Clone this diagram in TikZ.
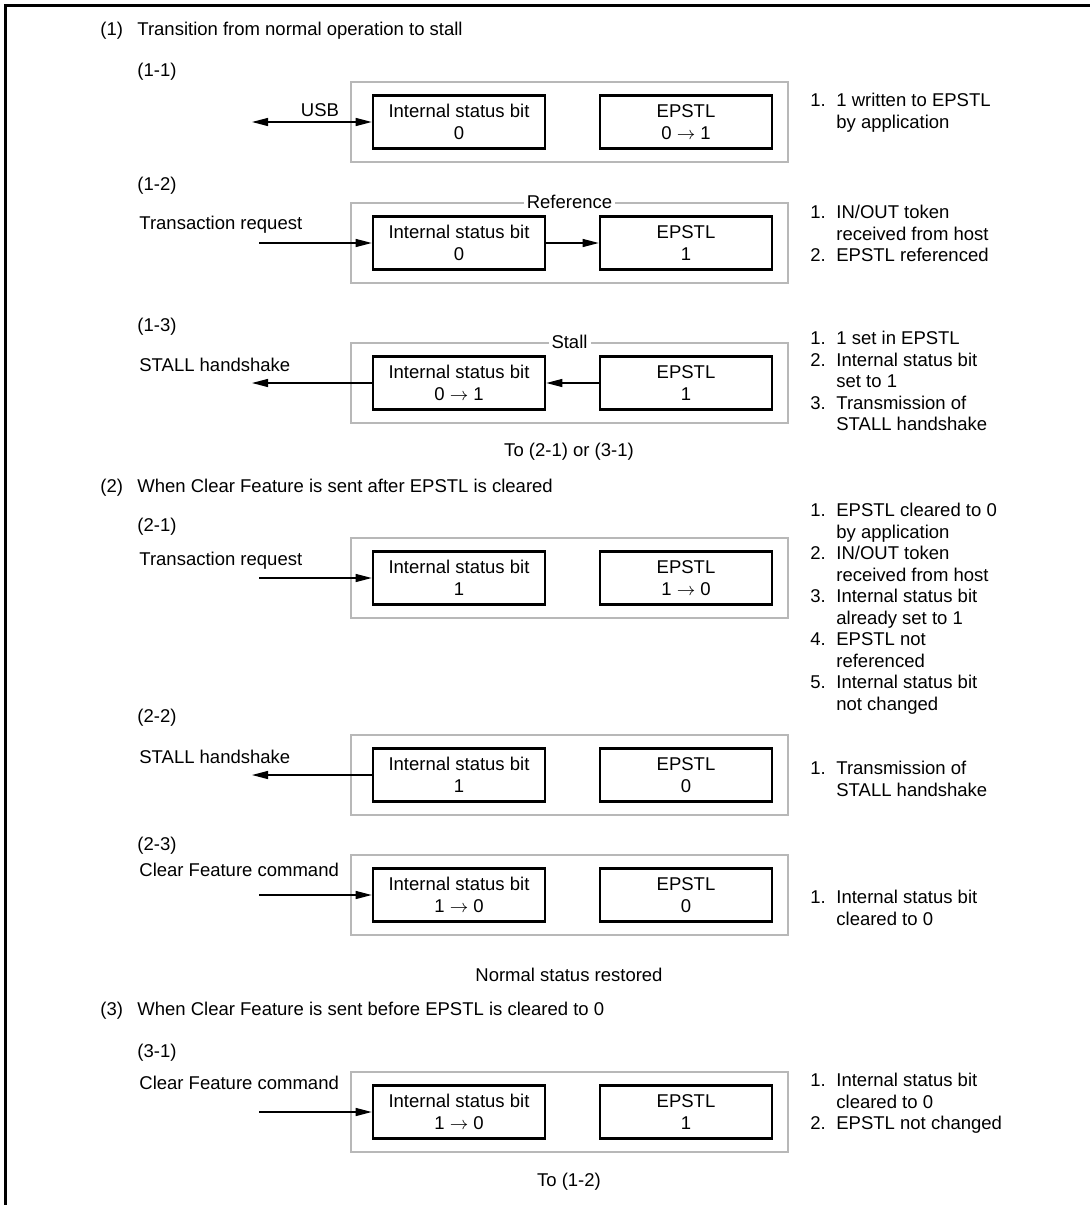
\documentclass[tikz,border=0pt]{standalone}
\usepackage{fontspec}
\setmainfont{Liberation Sans}
\usetikzlibrary{arrows.meta}
\newcommand{\secno}[1]{\makebox[18.5pt][l]{#1}}
\newcommand{\itemno}[1]{\makebox[13pt][l]{#1}}
\newcommand{\itemgap}{\hspace*{13pt}}

\begin{document}
\begin{tikzpicture}[x=.5pt,y=-.5pt,
  every node/.style={font=\fontsize{9.25}{10.75}\selectfont,inner sep=0pt},
  grayframe/.style={draw=black!28,line width=1pt,minimum width=218.5pt,minimum height=40pt},
  bitbox/.style={draw,line width=1.3pt,minimum width=86pt,minimum height=26.5pt,align=center},
  lbl/.style={anchor=west},
  note/.style={anchor=north west,align=left},
  tag/.style={fill=white,inner xsep=1.5pt},
  conn/.style={line width=.6pt,-{Triangle[length=8pt,width=4pt]}},
  dconn/.style={line width=.6pt,{Triangle[length=8pt,width=4pt]}-{Triangle[length=8pt,width=4pt]}}]
\useasboundingbox (0,0) rectangle (1090,1205);
\draw[line width=1.5pt] (5.5,1215) -- (5.5,5.5) -- (1100,5.5);

\node[lbl] (s1) at (100,31) {\secno{(1)}Transition from normal operation to stall};

\node[lbl] (c11) at (137,72) {(1-1)};
\node[grayframe] (g11) at (569.5,122) {};
\node[bitbox] (isb11) at (459,122) {Internal status bit\\0};
\node[bitbox] (ep11) at (686,122) {EPSTL\\0 $\rightarrow$ 1};
\coordinate (usb) at (252,122);
\draw[dconn] (usb) -- (isb11);
\node (usbl) at (320,110) {USB};
\node[note] (n11) at (810,93) {\itemno{1.}1 written to EPSTL\\\itemgap by application};

\node[lbl] (c12) at (137,186) {(1-2)};
\node[grayframe] (g12) at (569.5,243) {};
\node[tag] (ref12) at (g12.north) {Reference};
\node[bitbox] (isb12) at (459,243) {Internal status bit\\0};
\node[bitbox] (ep12) at (686,243) {EPSTL\\1};
\node[lbl] (tr12) at (139,225) {Transaction request};
\coordinate (in12) at (259,243);
\draw[conn] (in12) -- (isb12);
\draw[conn] (isb12) -- (ep12);
\node[note] (n12) at (810,205) {\itemno{1.}IN/OUT token\\\itemgap received from host\\\itemno{2.}EPSTL referenced};

\node[lbl] (c13) at (137,327) {(1-3)};
\node[grayframe] (g13) at (569.5,383) {};
\node[tag] (stl13) at (g13.north) {Stall};
\node[bitbox] (isb13) at (459,383) {Internal status bit\\0 $\rightarrow$ 1};
\node[bitbox] (ep13) at (686,383) {EPSTL\\1};
\node[lbl] (hs13) at (139,365) {STALL handshake};
\coordinate (out13) at (252,383);
\draw[conn] (ep13) -- (isb13);
\draw[conn] (isb13) -- (out13);
\node[note] (n13) at (810,331) {\itemno{1.}1 set in EPSTL\\\itemno{2.}Internal status bit\\\itemgap set to 1\\\itemno{3.}Transmission of\\\itemgap STALL handshake};

\node (to1) at (569,452) {To (2-1) or (3-1)};

\node[lbl] (s2) at (100,488) {\secno{(2)}When Clear Feature is sent after EPSTL is cleared};

\node[lbl] (c21) at (137,527) {(2-1)};
\node[grayframe] (g21) at (569.5,578) {};
\node[bitbox] (isb21) at (459,578) {Internal status bit\\1};
\node[bitbox] (ep21) at (686,578) {EPSTL\\1 $\rightarrow$ 0};
\node[lbl] (tr21) at (139,561) {Transaction request};
\coordinate (in21) at (259,578);
\draw[conn] (in21) -- (isb21);
\node[note] (n21) at (810,503) {\itemno{1.}EPSTL cleared to 0\\\itemgap by application\\\itemno{2.}IN/OUT token\\\itemgap received from host\\\itemno{3.}Internal status bit\\\itemgap already set to 1\\\itemno{4.}EPSTL not\\\itemgap referenced\\\itemno{5.}Internal status bit\\\itemgap not changed};

\node[lbl] (c22) at (137,718) {(2-2)};
\node[grayframe] (g22) at (569.5,775) {};
\node[bitbox] (isb22) at (459,775) {Internal status bit\\1};
\node[bitbox] (ep22) at (686,775) {EPSTL\\0};
\node[lbl] (hs22) at (139,757) {STALL handshake};
\coordinate (out22) at (252,775);
\draw[conn] (isb22) -- (out22);
\node[note] (n22) at (810,761) {\itemno{1.}Transmission of\\\itemgap STALL handshake};

\node[lbl] (c23) at (137,846) {(2-3)};
\node[grayframe] (g23) at (569.5,895) {};
\node[bitbox] (isb23) at (459,895) {Internal status bit\\1 $\rightarrow$ 0};
\node[bitbox] (ep23) at (686,895) {EPSTL\\0};
\node[lbl] (cf23) at (139,870) {Clear Feature command};
\coordinate (in23) at (259,895);
\draw[conn] (in23) -- (isb23);
\node[note] (n23) at (810,890) {\itemno{1.}Internal status bit\\\itemgap cleared to 0};

\node (nrm) at (569,975) {Normal status restored};

\node[lbl] (s3) at (100,1011) {\secno{(3)}When Clear Feature is sent before EPSTL is cleared to 0};

\node[lbl] (c31) at (137,1053) {(3-1)};
\node[grayframe] (g31) at (569.5,1112) {};
\node[bitbox] (isb31) at (459,1112) {Internal status bit\\1 $\rightarrow$ 0};
\node[bitbox] (ep31) at (686,1112) {EPSTL\\1};
\node[lbl] (cf31) at (139,1083) {Clear Feature command};
\coordinate (in31) at (259,1112);
\draw[conn] (in31) -- (isb31);
\node[note] (n31) at (810,1073) {\itemno{1.}Internal status bit\\\itemgap cleared to 0\\\itemno{2.}EPSTL not changed};

\node (to2) at (569,1182) {To (1-2)};
\end{tikzpicture}
\end{document}
